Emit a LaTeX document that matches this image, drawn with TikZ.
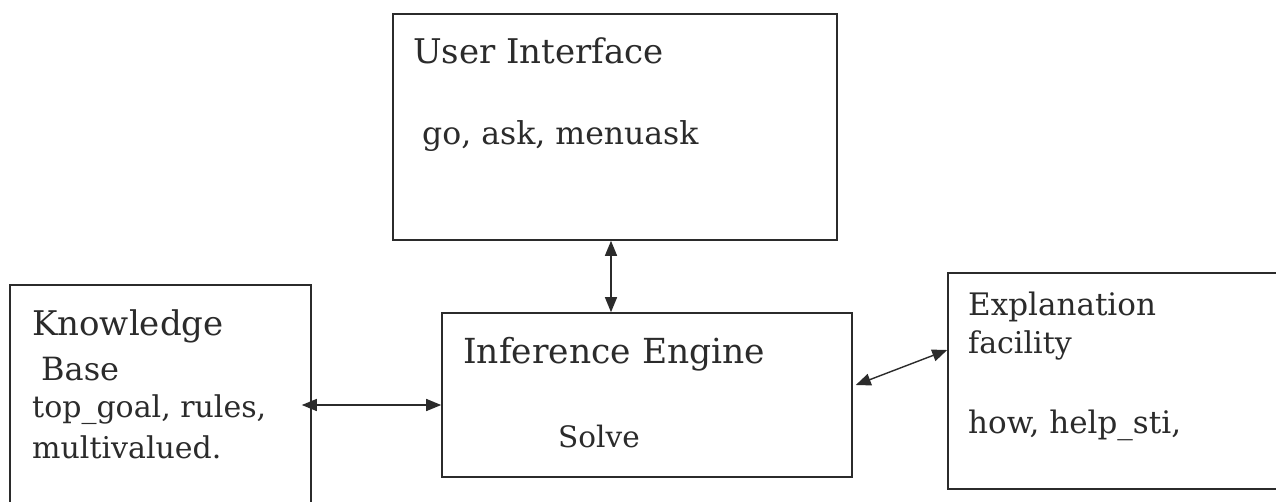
\documentclass[tikz,border=0pt]{standalone}
\usepackage{fontspec}
\setmainfont{DejaVu Serif}
\usetikzlibrary{arrows.meta}
\definecolor{ink}{HTML}{2B2B2B}
\tikzset{
  box/.style={draw=ink, line width=1.6pt, rectangle, inner sep=0pt},
  lbl/.style={anchor=base west, inner sep=0pt, text=ink},
  link/.style={draw=ink, line width=1.4pt, {Triangle[length=15pt,width=12pt]}-{Triangle[length=15pt,width=12pt]}},
}
\newcommand{\fs}[1]{\fontsize{#1}{#1}\selectfont}
\begin{document}
\begin{tikzpicture}[x=1pt, y=-1pt]
  \useasboundingbox (0,0) rectangle (1276,501);
  \clip (0,0) rectangle (1276,501);
  \fill[white] (0,0) rectangle (1276,501);

  % boxes
  \node[box, minimum width=444pt, minimum height=226pt] (ui) at (615,127) {};
  \node[box, minimum width=410pt, minimum height=164pt] (ie) at (647,395) {};
  \node[box, minimum width=301pt, minimum height=235pt] (kb) at (160.5,402.5) {};
  \node[box, minimum width=342pt, minimum height=216pt] (ex) at (1119,381) {};

  % texts
  \node[lbl, font=\fs{34}] (uiT) at (413,63) {User Interface};
  \node[lbl, font=\fs{31.5}] (uiS) at (422,144) {go, ask, menuask};

  \node[lbl, font=\fs{34}] (kbT1) at (32,335) {Knowledge};
  \node[lbl, font=\fs{32}] (kbT2) at (41,380) {Base};
  \node[lbl, font=\fs{30}] (kbS1) at (32,417) {top\_goal, rules,};
  \node[lbl, font=\fs{30}] (kbS2) at (32,458) {multivalued.};

  \node[lbl, font=\fs{34.5}] (ieT) at (463,363) {Inference Engine};
  \node[lbl, font=\fs{29.5}] (ieS) at (558,447) {Solve};

  \node[lbl, font=\fs{31}] (exT1) at (968,315) {Explanation};
  \node[lbl, font=\fs{30}] (exT2) at (968,353) {facility};
  \node[lbl, font=\fs{31}] (exS) at (968,433) {how, help\_sti,};

  % connectors
  \coordinate (uiB) at ([xshift=-4pt]ui.south);
  \coordinate (kbR) at ([shift={(-10pt,-2.5pt)}]kb.east);
  \coordinate (ieR) at ([shift={(3pt,10pt)}]ie.east);
  \coordinate (exL) at ([yshift=31pt]ex.west);
  \draw[link] (uiB) -- (uiB |- ie.north);
  \draw[link] (kbR) -- (kbR -| ie.west);
  \draw[link] (ieR) -- (exL);
\end{tikzpicture}
\end{document}
